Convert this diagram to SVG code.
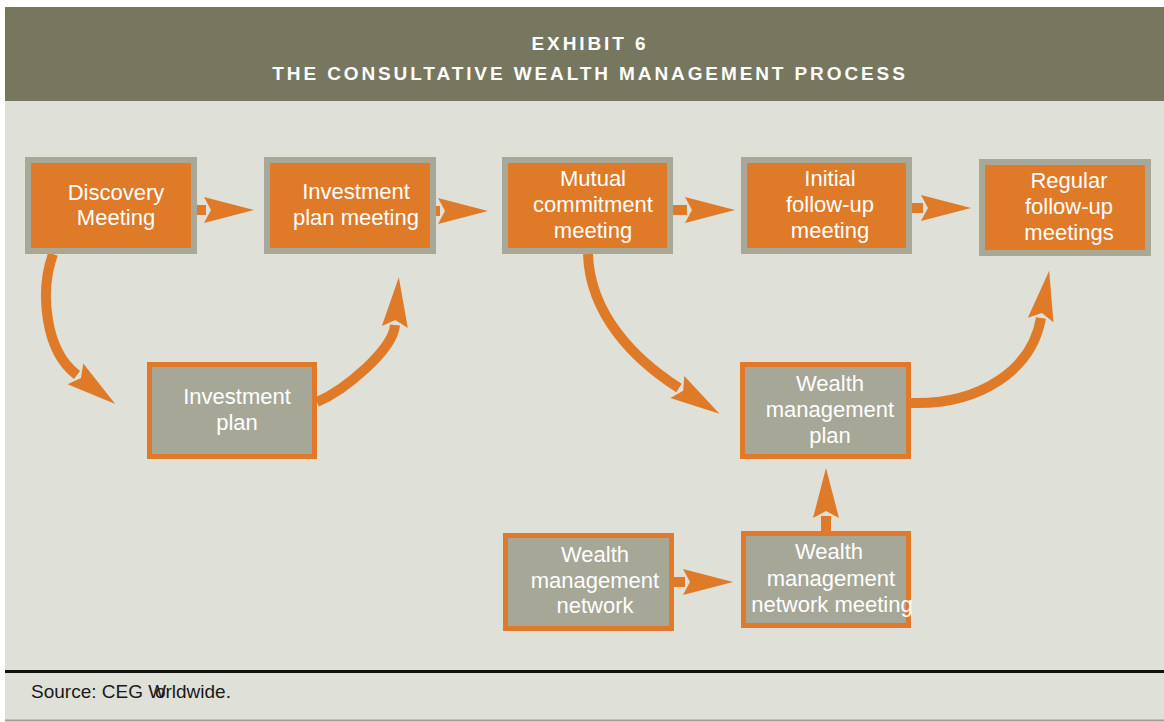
<svg xmlns="http://www.w3.org/2000/svg" width="1164" height="722" viewBox="0 0 1164 722">
<style>
.top rect{fill:#df7a29;stroke:#a8a898;stroke-width:6}
.low rect{fill:#a7a797;stroke:#e07a2a;stroke-width:5}
.lbl{font-family:"Liberation Sans",Arial,sans-serif;font-size:22px;fill:#ffffff;text-anchor:middle}
.hdr{font-family:"Liberation Sans",Arial,sans-serif;font-size:19px;font-weight:bold;fill:#ffffff;text-anchor:middle;letter-spacing:2.9px}
.conn path{fill:none;stroke:#df7a29;stroke-width:10;marker-end:url(#ah)}
</style>
<defs>
<marker id="ah" markerUnits="userSpaceOnUse" orient="auto" refX="0" refY="0" markerWidth="60" markerHeight="30" overflow="visible">
<path d="M-2,-13 L48,0 L-2,13 L5,0 Z" fill="#df7a29"/>
</marker>
</defs>
<rect x="0" y="0" width="1164" height="722" fill="#ffffff"/>
<rect x="5" y="101" width="1159" height="620" fill="#dfe0d7"/>
<rect x="5" y="7" width="1159" height="94" fill="#77765f"/>
<text class="hdr" x="590" y="50">EXHIBIT 6</text>
<text class="hdr" x="590" y="80">THE CONSULTATIVE WEALTH MANAGEMENT PROCESS</text>
<line x1="5" y1="671.5" x2="1164" y2="671.5" stroke="#111111" stroke-width="3"/>
<line x1="5" y1="720.5" x2="1164" y2="720.5" stroke="#a0a096" stroke-width="2"/>
<text x="31" y="698" font-family="'Liberation Sans',Arial,sans-serif" font-size="19" fill="#1a1a1a" dx="0 0 0 0 0 0 0 0 0 0 0 0 0 -11">Source: CEG Worldwide.</text>

<g class="conn" id="connectors">
<path d="M197 210 H206"/>
<path d="M436 211 H440"/>
<path d="M673 210 H687"/>
<path d="M912 208 H923"/>
<path d="M674 582 H685"/>
<path d="M826 531 V516"/>
<path d="M53 254 C40 290, 44 350, 77 375"/>
<path d="M317 402 C345 390, 393 350, 395 325"/>
<path d="M588 254 C590 315, 635 360, 679 388"/>
<path d="M911 403 C980 405, 1032 370, 1041 318"/>
</g>

<g id="discovery" class="top">
<rect x="28" y="160" width="166" height="91"/>
<text class="lbl" x="116" y="200">Discovery</text>
<text class="lbl" x="116" y="225">Meeting</text>
</g>
<g id="investment-plan-meeting" class="top">
<rect x="267" y="160" width="166" height="91"/>
<text class="lbl" x="356" y="199">Investment</text>
<text class="lbl" x="356" y="225">plan meeting</text>
</g>
<g id="mutual-commitment" class="top">
<rect x="505" y="160" width="165" height="91"/>
<text class="lbl" x="593" y="186">Mutual</text>
<text class="lbl" x="593" y="212">commitment</text>
<text class="lbl" x="593" y="238">meeting</text>
</g>
<g id="initial-follow-up" class="top">
<rect x="744" y="160" width="165" height="91"/>
<text class="lbl" x="830" y="186">Initial</text>
<text class="lbl" x="830" y="212">follow-up</text>
<text class="lbl" x="830" y="238">meeting</text>
</g>
<g id="regular-follow-up" class="top">
<rect x="982" y="162" width="166" height="91"/>
<text class="lbl" x="1069" y="188">Regular</text>
<text class="lbl" x="1069" y="214">follow-up</text>
<text class="lbl" x="1069" y="240">meetings</text>
</g>

<g id="investment-plan" class="low">
<rect x="149.5" y="364.5" width="165" height="92"/>
<text class="lbl" x="237" y="404">Investment</text>
<text class="lbl" x="237" y="430">plan</text>
</g>
<g id="wealth-management-plan" class="low">
<rect x="742.5" y="364.5" width="166" height="92"/>
<text class="lbl" x="830" y="391">Wealth</text>
<text class="lbl" x="830" y="417">management</text>
<text class="lbl" x="830" y="443">plan</text>
</g>
<g id="wealth-management-network" class="low">
<rect x="505.5" y="535.5" width="166" height="93"/>
<text class="lbl" x="595" y="562">Wealth</text>
<text class="lbl" x="595" y="588">management</text>
<text class="lbl" x="595" y="613">network</text>
</g>
<g id="wealth-management-network-meeting" class="low">
<rect x="743.5" y="533.5" width="165" height="92"/>
<text class="lbl" x="829" y="559">Wealth</text>
<text class="lbl" x="831" y="586">management</text>
<text class="lbl" x="832" y="612">network meeting</text>
</g>
</svg>
